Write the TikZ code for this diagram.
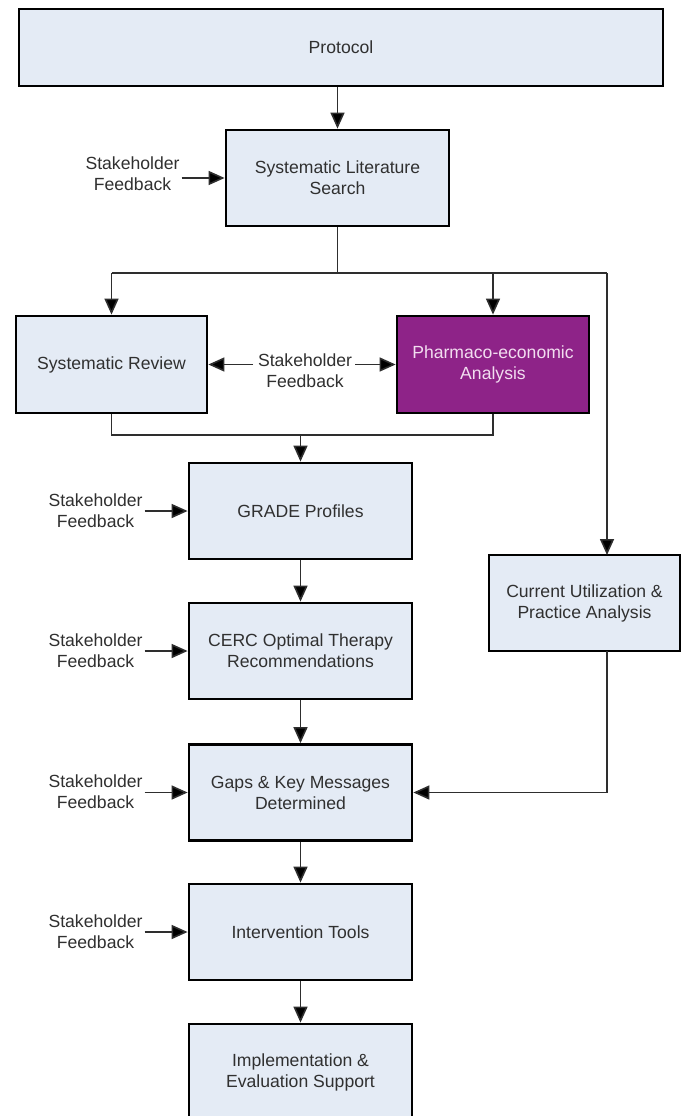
\documentclass[tikz,border=0pt]{standalone}
\usepackage{fontspec}
\setmainfont{Liberation Sans}
\usetikzlibrary{arrows.meta}
\definecolor{boxfill}{HTML}{E4EBF5}
\definecolor{purplefill}{HTML}{8E2388}
\definecolor{purpletext}{HTML}{F2DDF0}
\definecolor{txt}{HTML}{303030}
\definecolor{conn}{HTML}{2E2E2E}
\tikzset{
  stagebox/.style={draw=black, line width=2.8pt, fill=boxfill, text=txt,
    align=center, inner sep=0pt, font=\fontsize{17.6}{21}\selectfont},
  pebox/.style={stagebox, fill=purplefill, text=purpletext},
  sflabel/.style={align=center, inner sep=0pt, text=txt, font=\fontsize{17.6}{21}\selectfont},
  conline/.style={draw=conn, line width=1.6pt},
  arr/.style={conline, -{Triangle[length=16pt,width=14pt,fill=black]}},
}
\begin{document}
\begin{tikzpicture}[x=1pt,y=-1pt]
\useasboundingbox (0,0) rectangle (683,1116);
\clip (0,0) rectangle (683,1116);
\fill[white] (0,0) rectangle (683,1116);

% boxes
\node[stagebox, minimum width=644pt, minimum height=77pt] (proto) at (341,47.5) {Protocol};
\node[stagebox, minimum width=223pt, minimum height=96pt] (sls) at (337.5,178) {Systematic Literature\\Search};
\node[stagebox, minimum width=191pt, minimum height=97pt] (sr) at (111.5,364.5) {Systematic Review};
\node[pebox, minimum width=192pt, minimum height=97pt] (pe) at (493,364.5) {Pharmaco-economic\\Analysis};
\node[stagebox, minimum width=223pt, minimum height=96pt] (grade) at (300.5,511) {GRADE Profiles};
\node[stagebox, minimum width=223pt, minimum height=96pt] (cerc) at (300.5,651) {CERC Optimal Therapy\\Recommendations};
\node[stagebox, minimum width=223pt, minimum height=96pt] (gaps) at (300.5,792.5) {Gaps \& Key Messages\\Determined};
\node[stagebox, minimum width=223pt, minimum height=96pt] (interv) at (300.5,932) {Intervention Tools};
\node[stagebox, minimum width=223pt, minimum height=96pt] (impl) at (300.5,1072) {Implementation \&\\Evaluation Support};
\node[stagebox, minimum width=191pt, minimum height=96pt] (cupa) at (584.5,603) {Current Utilization \&\\Practice Analysis};

% stakeholder labels
\node[sflabel] (sf1) at (132.5,174) {Stakeholder\\Feedback};
\node[sflabel] (sfm) at (305,370.5) {Stakeholder\\Feedback};
\node[sflabel] (sf2) at (95.5,510.5) {Stakeholder\\Feedback};
\node[sflabel] (sf3) at (95.5,650.5) {Stakeholder\\Feedback};
\node[sflabel] (sf4) at (95.5,792) {Stakeholder\\Feedback};
\node[sflabel] (sf5) at (95.5,931.5) {Stakeholder\\Feedback};

% coordinates
\coordinate (split) at (337.5,273);
\coordinate (splitL) at (111.5,273);
\coordinate (splitP) at (493,273);
\coordinate (splitR) at (607,273);
\coordinate (cupaTop) at (607,555);
\coordinate (cupaBot) at (607,651);
\coordinate (cupaTurn) at (607,792.5);
\coordinate (mergeL) at (111.5,435);
\coordinate (mergeR) at (493,435);
\coordinate (mergeC) at (300.5,435);

% connectors
\draw[arr] (proto.south -| sls.north) -- (sls.north);
\draw[conline] (sls.south) -- (split);
\draw[conline] (splitL) -- (splitR);
\draw[arr] (splitL) -- (sr.north);
\draw[arr] (splitP) -- (pe.north);
\draw[arr] (splitR) -- (cupaTop);
\draw[conline] (sr.south) -- (mergeL) -- (mergeR) -- (pe.south);
\draw[arr] (mergeC) -- (grade.north);
\draw[arr] (grade.south) -- (cerc.north);
\draw[arr] (cerc.south) -- (gaps.north);
\draw[arr] (gaps.south) -- (interv.north);
\draw[arr] (interv.south) -- (impl.north);
\draw[conline] (cupaBot) -- (cupaTurn);
\draw[arr] (cupaTurn) -- (gaps.east);

% feedback arrows
\draw[arr] ([xshift=2pt]sf1.east |- sls.west) -- (sls.west);
\draw[arr] (253,364.5) -- (sr.east);
\draw[arr] (355,364.5) -- (pe.west);
\draw[arr] ([xshift=2pt]sf2.east |- grade.west) -- (grade.west);
\draw[arr] ([xshift=2pt]sf3.east |- cerc.west) -- (cerc.west);
\draw[arr] ([xshift=2pt]sf4.east |- gaps.west) -- (gaps.west);
\draw[arr] ([xshift=2pt]sf5.east |- interv.west) -- (interv.west);
\end{tikzpicture}
\end{document}
